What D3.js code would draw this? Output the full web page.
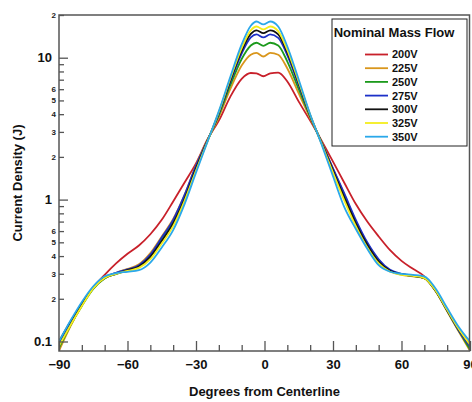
<!DOCTYPE html>
<html><head><meta http-equiv="Content-Type" content="text/html; charset=UTF-8"><style>
body { margin: 0; background: #fff; }
svg { display: block; font-family: Arial, "Liberation Sans", sans-serif; }
.axis .domain { display: none; }
.axis line { stroke: #555; stroke-width: 1.3; }
.major text { font-size: 13px; font-weight: bold; fill: #111; }
.minor text { font-size: 8px; font-weight: bold; fill: #222; }
</style>
</head>
<body>
<svg width="472" height="402"></svg>
<script src="https://cdn.jsdelivr.net/npm/d3@7"></script>
<script>

var angles = [-90, -85, -80, -75, -70, -65, -60, -55, -50, -45, -40, -35, -30, -25, -20, -15, -10,
              -6, -3.5, -0.5, 2.5, 6,
              10, 15, 20, 25, 30, 35, 40, 45, 50, 55, 60, 65, 70, 75, 80, 85, 90];

var v200 = [0.092, 0.13, 0.18, 0.24, 0.295, 0.355, 0.415, 0.475, 0.57, 0.72, 0.97, 1.32, 1.8, 2.65, 3.6, 5.3, 7.1,
            7.8, 7.75, 7.4, 7.75, 7.85,
            6.8, 4.9, 3.6, 2.6, 1.85, 1.31, 0.93, 0.70, 0.55, 0.44, 0.37, 0.325, 0.288, 0.23, 0.166, 0.12, 0.09];
var v225 = [0.086, 0.128, 0.18, 0.238, 0.282, 0.305, 0.325, 0.35, 0.42, 0.55, 0.73, 1.08, 1.74, 2.62, 3.82, 6.0, 8.8,
            10.5, 10.8, 10.2, 10.8, 10.5,
            8.4, 5.6, 3.75, 2.55, 1.65, 1.08, 0.70, 0.49, 0.375, 0.315, 0.295, 0.288, 0.278, 0.225, 0.163, 0.118, 0.086];
var v250 = [0.09, 0.13, 0.178, 0.235, 0.278, 0.3, 0.318, 0.34, 0.40, 0.52, 0.70, 1.04, 1.70, 2.6, 3.94, 6.4, 9.8,
            12.2, 12.75, 12.1, 12.75, 12.2,
            9.4, 6.0, 3.83, 2.52, 1.62, 1.05, 0.69, 0.48, 0.37, 0.315, 0.298, 0.29, 0.28, 0.227, 0.165, 0.12, 0.088];
var v275 = [0.095, 0.135, 0.183, 0.24, 0.283, 0.305, 0.322, 0.345, 0.41, 0.54, 0.72, 1.08, 1.73, 2.6, 4.04, 6.74, 10.7,
            13.9, 14.6, 13.9, 14.6, 13.8,
            10.4, 6.4, 3.9, 2.52, 1.66, 1.10, 0.72, 0.50, 0.38, 0.32, 0.30, 0.292, 0.282, 0.228, 0.166, 0.12, 0.092];
var v300 = [0.1, 0.138, 0.183, 0.238, 0.28, 0.3, 0.318, 0.338, 0.395, 0.51, 0.68, 1.01, 1.66, 2.58, 4.09, 6.9, 11.2,
            14.7, 15.6, 14.9, 15.6, 14.6,
            10.9, 6.6, 3.93, 2.5, 1.60, 1.03, 0.68, 0.48, 0.365, 0.315, 0.298, 0.29, 0.28, 0.227, 0.166, 0.122, 0.095];
var v325 = [0.093, 0.13, 0.178, 0.237, 0.28, 0.3, 0.315, 0.33, 0.38, 0.49, 0.65, 0.98, 1.6, 2.56, 4.14, 7.1, 11.7,
            15.6, 16.6, 15.85, 16.6, 15.4,
            11.3, 6.76, 3.96, 2.48, 1.55, 0.98, 0.65, 0.46, 0.355, 0.31, 0.295, 0.29, 0.28, 0.228, 0.167, 0.123, 0.095];
var v350 = [0.1, 0.14, 0.19, 0.245, 0.288, 0.303, 0.31, 0.318, 0.36, 0.46, 0.61, 0.93, 1.55, 2.55, 4.2, 7.3, 12.4,
            16.8, 18.0, 17.2, 18.0, 16.6,
            12.0, 7.0, 4.0, 2.45, 1.46, 0.88, 0.62, 0.45, 0.345, 0.31, 0.30, 0.295, 0.288, 0.235, 0.172, 0.127, 0.1];

var seriesNames = ["200V", "225V", "250V", "275V", "300V", "325V", "350V"];
var seriesValues = [v200, v225, v250, v275, v300, v325, v350];
var colors = ["#c8202a", "#d9961c", "#1c9a1c", "#1c30c8", "#111111", "#f4ee1c", "#2aa8ea"];

var xMajor = [-90, -60, -30, 0, 30, 60, 90];
var xMinor = [-80, -70, -50, -40, -20, -10, 10, 20, 40, 50, 70, 80];
var yMajor = [0.1, 1, 10];
var yMajorLabels = ["0.1", "1", "10"];
var yMinor = [0.2, 0.3, 0.4, 0.5, 0.6, 0.7, 0.8, 0.9, 2, 3, 4, 5, 6, 7, 8, 9, 20];
var yMinorLabels = ["2", "3", "4", "5", "6", "", "", "", "2", "3", "4", "5", "6", "", "", "", "2"];

var svg = d3.select("svg"),
    margin = {top: 15, right: 2, bottom: 51, left: 59},
    width = +svg.attr("width") - margin.left - margin.right,
    height = +svg.attr("height") - margin.top - margin.bottom,
    g = svg.append("g").attr("transform", "translate(" + margin.left + "," + margin.top + ")");

var x = d3.scaleLinear().domain([-90, 90]).range([0, width]);
var y = d3.scaleLog().domain([0.0857, 20]).range([height, 0]);

g.append("clipPath").attr("id", "clip")
  .append("rect").attr("width", width).attr("height", height);

var line = d3.line()
    .curve(d3.curveMonotoneX)
    .x(function(d, i) { return x(angles[i]); })
    .y(function(d) { return y(d); });

g.append("g")
    .attr("clip-path", "url(#clip)")
  .selectAll("path")
  .data(seriesValues)
  .enter().append("path")
    .attr("fill", "none")
    .attr("stroke", function(d, i) { return colors[i]; })
    .attr("stroke-width", 1.8)
    .attr("d", line);

// axes, ticks pointing inward
g.append("g")
    .attr("class", "axis major")
    .attr("transform", "translate(0," + height + ")")
    .call(d3.axisBottom(x).tickValues(xMajor).tickSize(-10).tickPadding(9).tickFormat(d3.format("d")));

g.append("g")
    .attr("class", "axis minor")
    .attr("transform", "translate(0," + height + ")")
    .call(d3.axisBottom(x).tickValues(xMinor).tickSize(-6).tickFormat(""));

g.append("g")
    .attr("class", "axis major")
    .call(d3.axisLeft(y).tickValues(yMajor).tickSize(-9).tickPadding(7)
      .tickFormat(function(d, i) { return yMajorLabels[i]; }));

g.append("g")
    .attr("class", "axis minor")
    .call(d3.axisLeft(y).tickValues(yMinor).tickSize(-5).tickPadding(3)
      .tickFormat(function(d, i) { return yMinorLabels[i]; }));

g.append("rect")
    .attr("width", width - 0.5)
    .attr("height", height)
    .attr("fill", "none")
    .attr("stroke", "#555")
    .attr("stroke-width", 1.5);

svg.append("text")
    .attr("x", margin.left + x(0))
    .attr("y", 396)
    .attr("text-anchor", "middle")
    .attr("font-size", 13)
    .attr("font-weight", "bold")
    .attr("fill", "#111")
    .text("Degrees from Centerline");

svg.append("text")
    .attr("transform", "translate(22," + (margin.top + height / 2) + ") rotate(-90)")
    .attr("text-anchor", "middle")
    .attr("font-size", 13)
    .attr("font-weight", "bold")
    .attr("fill", "#111")
    .text("Current Density (J)");

// legend
var legend = svg.append("g").attr("transform", "translate(332,19)");

legend.append("rect")
    .attr("width", 135)
    .attr("height", 127)
    .attr("fill", "#fff")
    .attr("stroke", "#222")
    .attr("stroke-width", 1);

legend.append("text")
    .attr("x", 62)
    .attr("y", 17.5)
    .attr("text-anchor", "middle")
    .attr("font-size", 13)
    .attr("font-weight", "bold")
    .attr("fill", "#111")
    .text("Nominal Mass Flow");

var item = legend.selectAll(".item")
    .data(seriesNames)
  .enter().append("g")
    .attr("class", "item")
    .attr("transform", function(d, i) { return "translate(0," + (35.5 + i * 13.7) + ")"; });

item.append("line")
    .attr("x1", 33).attr("x2", 56)
    .attr("stroke", function(d, i) { return colors[i]; })
    .attr("stroke-width", 1.8);

item.append("text")
    .attr("x", 60)
    .attr("dy", "0.36em")
    .attr("font-size", 11)
    .attr("font-weight", "bold")
    .attr("fill", "#111")
    .text(function(d) { return d; });

</script>
</body></html>
